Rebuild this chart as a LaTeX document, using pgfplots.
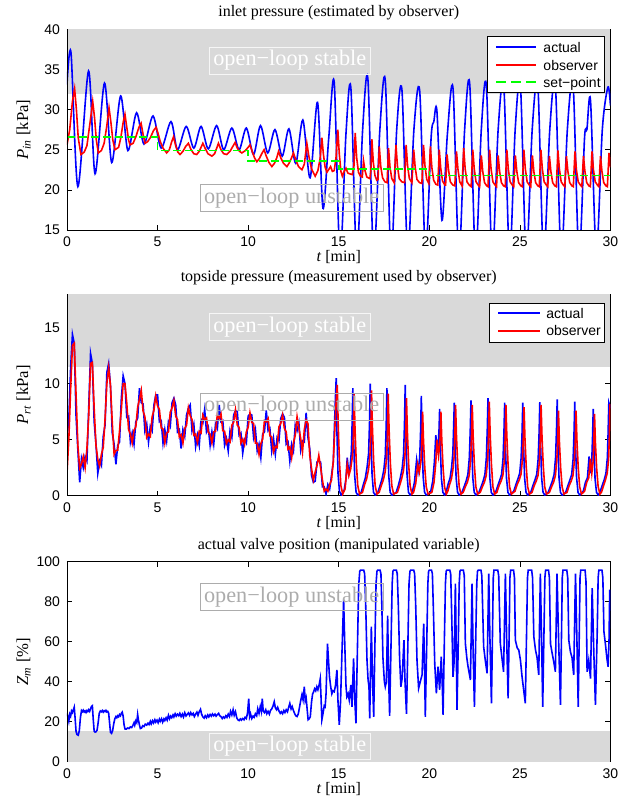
\documentclass[border=0pt]{standalone}
\usepackage{fontspec}
\setmainfont{Liberation Serif}
\newfontfamily\helv{Liberation Sans}
\usepackage{pgfplots}
\pgfplotsset{compat=1.18}
\definecolor{band}{RGB}{217,217,217}
\definecolor{agray}{RGB}{172,172,172}
\definecolor{awhite}{RGB}{246,246,246}
\definecolor{mblue}{RGB}{0,0,255}
\definecolor{mred}{RGB}{255,0,0}
\definecolor{mgreen}{RGB}{0,255,0}
\newcommand{\annofont}{\fontsize{16.7}{18}\selectfont}
\newcommand{\legfont}{\helv\fontsize{10.5}{12}\selectfont}
\pgfplotsset{
  mystyle/.style={
    scale only axis,
    width=407.6pt,
    xmin=0, xmax=30,
    xtick={0,5,...,30},
    /pgf/number format/assume math mode=true,
    tick label style={font=\helv\fontsize{10.5}{12}\selectfont},
    xticklabel style={yshift=-1.5pt},
    yticklabel style={xshift=-1.75pt},
    major tick length=3.75pt,
    tick style={black, line width=0.5pt},
    axis line style={black, line width=0.6pt},
    every axis title/.style={at={(0.5,1)}, anchor=center, yshift=12.2pt, font=\fontsize{12}{14}\selectfont},
    every axis x label/.style={at={(0.5,0)}, anchor=center, yshift=-20.5pt, font=\fontsize{12}{14}\selectfont},
    every axis y label/.style={at={(0,0.5)}, xshift=-32.5pt, rotate=90, anchor=center, font=\fontsize{12.5}{14}\selectfont},
    xlabel={\textit{t} [min]},
    clip=true,
  },
}
\tikzset{
  annstable/.style={draw=awhite, line width=0.6pt, text=white, font=\annofont, inner xsep=3pt, inner ysep=2.5pt},
  annunstable/.style={draw=agray, line width=0.6pt, text=agray, font=\annofont, inner xsep=3pt, inner ysep=2.5pt},
  legtext/.style={anchor=base west, inner sep=0pt, font=\legfont},
}
\begin{document}
\begin{tikzpicture}
\useasboundingbox (0,0) rectangle (469.5pt,-600.75pt);
% ================= TOP =================
\begin{axis}[mystyle, at={(50.25pt,-21.98pt)}, anchor=north west, height=150.5pt,
  ymin=15, ymax=40, ytick={15,20,...,40},
  title={inlet pressure (estimated by observer)},
  ylabel={\textit{P}\textsubscript{\textit{in}} [kPa]}]
\fill[band] (axis cs:0,32) rectangle (axis cs:30,40);
\addplot[mblue, line width=1.2pt, smooth] coordinates {
(0,33.1) (0.22,37.1) (0.6,20.4) (1.19,34.8) (1.55,22.0) (2.07,33.3) (2.47,23.4) (2.96,31.7) (3.36,24.9) (3.84,29.6) (4.25,25.7) (4.75,29.2) (5.2,25.2) (5.74,28.5) (6.1,25.0) (6.58,27.9) (7.0,25.2) (7.4,27.9) (7.8,25.1) (8.26,28.0) (8.65,25.0) (9.1,27.7) (9.5,25.0) (9.9,27.7) (10.3,24.4) (10.68,28.0) (11.08,24.6) (11.48,27.5) (11.88,24.2) (12.25,27.6) (12.63,23.3) (13.02,28.7) (13.42,21.5) (13.83,30.9) (14.13,17.7) (14.45,26.5) (14.75,33.4) (15.07,11.5) (15.4,27.0) (15.67,32.7) (15.99,11.5) (16.32,27.5) (16.61,33.8) (16.93,11.5) (17.27,27.5) (17.57,33.6) (17.89,11.5) (18.2,27.5) (18.49,32.4) (18.81,12.0) (19.15,27.5) (19.47,32.3) (19.79,12.0) (20.1,26.5) (20.25,28.5) (20.42,29.8) (20.7,16.2) (21.0,27.0) (21.31,32.6) (21.63,11.5) (21.95,27.5) (22.23,33.2) (22.55,11.5) (22.87,27.5) (23.15,33.0) (23.47,11.5) (23.8,27.5) (24.11,33.0) (24.43,11.5) (24.74,27.5) (25.03,33.0) (25.35,11.5) (25.68,27.5) (25.99,33.0) (26.31,11.5) (26.65,27.5) (26.96,33.0) (27.28,11.5) (27.62,27.5) (27.94,33.0) (28.26,11.5) (28.57,26.5) (28.7,27.5) (28.9,31.1) (29.22,12.0) (29.55,27.5) (29.86,32.8) (30,30.5)
};
\addplot[mred, line width=1.2pt] coordinates {
(0,25.6) (0.15,27.5) (0.3,31.0) (0.42,32.6) (0.52,30.0) (0.62,26.5) (0.77,24.4) (0.95,24.7) (1.1,25.5) (1.28,28.5) (1.42,31.0) (1.52,29.0) (1.62,26.2) (1.73,24.6) (1.9,24.9) (2.05,25.8) (2.2,28.0) (2.32,30.2) (2.42,28.5) (2.53,26.2) (2.65,25.0) (2.85,25.3) (2.97,26.5) (3.1,28.4) (3.2,29.4) (3.3,27.8) (3.4,26.2) (3.48,25.6) (3.65,25.8) (3.8,26.6) (3.97,27.8) (4.09,28.3) (4.2,26.9) (4.31,25.8) (4.45,26.0) (4.6,26.5) (4.78,27.4) (4.92,27.8) (5.03,27.0) (5.15,26.0) (5.3,25.2) (5.5,24.6) (5.65,25.0) (5.78,26.0) (5.88,26.6) (6.0,25.5) (6.12,24.7) (6.24,24.4) (6.4,24.8) (6.55,25.4) (6.7,25.8) (6.85,25.0) (7.0,24.5) (7.16,24.4) (7.3,24.8) (7.42,25.4) (7.5,25.8) (7.62,25.2) (7.78,24.5) (8.0,24.2) (8.15,24.5) (8.28,25.3) (8.36,25.8) (8.5,25.0) (8.65,24.5) (8.82,24.4) (9.0,24.8) (9.15,25.4) (9.28,25.9) (9.4,25.2) (9.52,24.8) (9.65,24.6) (9.85,24.9) (10.0,25.3) (10.1,25.6) (10.22,24.8) (10.35,24.0) (10.48,23.5) (10.62,23.9) (10.75,24.5) (10.88,25.0) (11.0,24.2) (11.15,23.4) (11.31,22.9) (11.45,23.3) (11.58,24.0) (11.68,24.8) (11.8,24.0) (11.95,23.3) (12.14,22.9) (12.28,23.4) (12.4,24.0) (12.5,24.6) (12.62,23.8) (12.78,22.9) (12.97,22.5) (13.1,23.2) (13.24,25.8) (13.35,24.2) (13.5,22.6) (13.7,21.7) (13.85,22.4) (13.98,24.0) (14.07,26.5) (14.15,24.5) (14.25,22.8) (14.35,22.2) (14.44,22.5) (14.55,22.9) (14.65,22.3) (14.75,22.4) (14.85,24.0) (14.95,27.5) (15.03,24.5) (15.12,22.3) (15.2,21.7) (15.3,22.3) (15.4,22.7) (15.5,22.1) (15.6,22.0) (15.75,21.9) (15.84,23.0) (15.91,27.1) (15.99,24.0) (16.09,22.2) (16.2,21.7) (16.3,21.6) (16.37,23.6) (16.45,22.4) (16.55,21.6) (16.72,21.4) (16.78,22.5) (16.83,26.3) (16.91,23.4) (17.0,21.8) (17.1,21.2) (17.17,21.3) (17.24,25.4) (17.32,22.9) (17.42,21.5) (17.55,21.0) (17.67,20.9) (17.75,25.2) (17.83,22.8) (17.93,21.4) (18.06,20.9) (18.16,25.6) (18.24,23.0) (18.34,21.4) (18.48,21.0) (18.63,20.9) (18.72,25.6) (18.8,23.0) (18.9,21.4) (19.04,20.9) (19.14,25.0) (19.22,22.8) (19.32,21.3) (19.46,20.9) (19.59,20.8) (19.68,25.6) (19.76,23.0) (19.86,21.3) (19.97,20.8) (20.06,25.4) (20.14,22.8) (20.24,21.2) (20.36,20.7) (20.47,20.6) (20.55,25.0) (20.63,22.7) (20.73,21.1) (20.86,20.6) (20.9,20.6) (20.98,24.4) (21.06,22.5) (21.16,21.0) (21.3,20.6) (21.41,20.5) (21.5,24.8) (21.58,22.6) (21.68,21.0) (21.81,20.5) (21.9,25.2) (21.98,22.6) (22.08,21.0) (22.2,20.6) (22.31,20.4) (22.4,25.0) (22.48,22.6) (22.58,21.0) (22.7,20.6) (22.78,20.4) (22.87,24.3) (22.95,22.3) (23.05,20.9) (23.17,20.5) (23.24,20.4) (23.33,25.0) (23.41,22.6) (23.51,21.0) (23.63,20.6) (23.71,20.4) (23.8,24.3) (23.88,22.3) (23.98,20.9) (24.1,20.5) (24.19,20.4) (24.28,25.0) (24.36,22.6) (24.46,21.0) (24.58,20.6) (24.66,20.4) (24.75,24.3) (24.83,22.3) (24.93,20.9) (25.05,20.5) (25.13,20.4) (25.22,25.0) (25.3,22.6) (25.4,21.0) (25.52,20.6) (25.6,20.4) (25.69,24.3) (25.77,22.3) (25.87,20.9) (25.99,20.5) (26.07,20.4) (26.16,25.0) (26.24,22.6) (26.34,21.0) (26.46,20.6) (26.54,20.4) (26.63,24.2) (26.71,22.3) (26.81,20.9) (26.93,20.5) (27.01,20.4) (27.1,24.9) (27.18,22.6) (27.28,21.0) (27.4,20.6) (27.48,20.4) (27.57,24.2) (27.65,22.3) (27.75,20.9) (27.87,20.5) (27.95,20.4) (28.04,24.8) (28.12,22.5) (28.22,21.0) (28.34,20.6) (28.42,20.4) (28.51,24.2) (28.59,22.3) (28.69,20.9) (28.81,20.5) (28.89,20.4) (28.98,24.8) (29.06,22.5) (29.16,21.0) (29.28,20.6) (29.36,20.4) (29.45,24.2) (29.53,22.3) (29.63,20.9) (29.75,20.5) (29.83,20.4) (29.92,24.6) (30,22.8)
};
\addplot[mgreen, line width=1.2pt, dash pattern=on 6pt off 3pt] coordinates {
(0,26.6) (5,26.6) (5,24.9) (10,24.9) (10,23.6) (15,23.6) (15,22.6) (20,22.6) (20,21.8) (30,21.8)
};
\draw[black, line width=0.6pt] (rel axis cs:0,0) -- (rel axis cs:0,1);
\node[annstable] at (axis cs:12.3,36.1) {open−loop stable};
\node[annunstable] at (axis cs:12.4,19.0) {open−loop unstable};
\end{axis}
% ================= MIDDLE =================
\begin{axis}[mystyle, at={(50.25pt,-220.5pt)}, anchor=north west, height=151.3pt,
  ymin=0, ymax=18, ytick={0,5,10,15},
  title={topside pressure (measurement used by observer)},
  ylabel={\textit{P}\textsubscript{\textit{rt}} [kPa]}]
\fill[band] (axis cs:0,11.5) rectangle (axis cs:30,18);
\addplot[mblue, line width=1.2pt] coordinates {
(0,5.2) (0.1,6.8) (0.2,11.4) (0.3,14.4) (0.4,13.6) (0.5,7.1) (0.6,4.1) (0.7,1.2) (0.8,3.3) (0.9,2.5) (1.0,3.5) (1.1,3.1) (1.2,7.9) (1.3,12.7) (1.4,11.8) (1.5,6.6) (1.6,4.6) (1.7,2.0) (1.8,3.1) (1.9,2.7) (2.0,5.3) (2.1,6.3) (2.2,11.0) (2.3,11.8) (2.4,9.8) (2.5,5.6) (2.6,4.6) (2.7,2.8) (2.8,4.5) (2.9,4.8) (3.0,8.7) (3.1,10.7) (3.2,10.0) (3.3,7.0) (3.4,7.1) (3.5,4.8) (3.6,5.6) (3.7,4.6) (3.8,6.6) (3.9,6.9) (4.0,9.6) (4.1,8.3) (4.2,8.2) (4.3,5.8) (4.4,6.4) (4.5,4.8) (4.6,6.2) (4.7,5.8) (4.8,8.1) (4.9,9.0) (5.0,9.0) (5.1,6.6) (5.2,6.7) (5.3,4.7) (5.4,5.9) (5.5,4.9) (5.6,6.6) (5.7,6.2) (5.8,8.3) (5.9,8.7) (6.0,8.1) (6.1,5.7) (6.2,5.9) (6.3,4.2) (6.4,5.9) (6.5,5.3) (6.6,7.2) (6.7,7.8) (6.8,8.1) (6.9,5.8) (7.0,6.4) (7.1,4.4) (7.2,5.4) (7.3,4.5) (7.4,6.8) (7.5,6.5) (7.6,7.7) (7.7,5.7) (7.8,6.1) (7.9,4.5) (8.0,5.7) (8.1,4.6) (8.2,6.4) (8.3,6.0) (8.4,8.1) (8.5,6.6) (8.6,6.7) (8.7,4.5) (8.8,5.1) (8.9,4.0) (9.0,5.8) (9.1,5.2) (9.2,7.2) (9.3,7.6) (9.4,7.5) (9.5,5.4) (9.6,5.6) (9.7,3.8) (9.8,5.0) (9.9,4.7) (10.0,7.1) (10.1,7.3) (10.2,7.2) (10.3,5.2) (10.4,5.9) (10.5,4.0) (10.6,4.6) (10.7,3.4) (10.8,5.5) (10.9,5.7) (11.0,7.6) (11.1,5.8) (11.2,6.0) (11.3,4.0) (11.4,5.1) (11.5,3.7) (11.6,5.2) (11.7,4.9) (11.8,6.9) (11.9,7.3) (12.0,7.0) (12.1,4.6) (12.2,4.8) (12.3,3.1) (12.4,4.6) (12.5,4.0) (12.6,6.3) (12.7,5.8) (12.8,6.5) (12.9,4.1) (13.0,4.9) (13.1,4.8) (13.2,7.4) (13.3,5.2) (13.4,4.2) (13.5,1.8) (13.6,1.2) (13.7,1.3) (13.8,3.0) (13.9,3.1) (14.0,3.0) (14.1,0.8) (14.2,0.8) (14.3,0.15) (14.4,1.0) (14.5,0.6) (14.6,1.8) (14.7,3.0) (14.8,8.0) (14.86,10.5)
(14.9,5.8) (14.96,2.0) (15.04,0.4) (15.14,0.05) (15.3,0.5) (15.4,1.5) (15.47,3.4) (15.55,2.0) (15.63,2.6) (15.7,4.0) (15.74,6.5) (15.78,9.6)
(15.82,5.3) (15.88,1.8) (15.96,0.3) (16.06,0.05) (16.24,0.3) (16.36,1.0) (16.47,1.6) (16.57,2.6) (16.65,3.8) (16.7,6.5) (16.74,10.0)
(16.78,5.5) (16.84,1.9) (16.92,0.3) (17.02,0.05) (17.16,0.3) (17.28,0.9) (17.39,1.5) (17.49,2.3) (17.57,3.6) (17.62,6.2) (17.66,9.6)
(17.7,5.3) (17.76,1.8) (17.84,0.3) (17.94,0.05) (18.17,0.3) (18.29,0.9) (18.4,1.6) (18.5,2.4) (18.58,3.7) (18.63,6.4) (18.67,9.9)
(18.71,5.4) (18.77,1.9) (18.85,0.3) (18.95,0.05) (19.06,0.3) (19.18,1.2) (19.3,3.2) (19.38,2.2) (19.47,3.4) (19.52,5.8) (19.56,8.9)
(19.6,4.9) (19.66,1.7) (19.74,0.3) (19.84,0.05) (20.07,0.3) (20.19,1.3) (20.28,3.0) (20.36,5.4) (20.44,3.8) (20.5,4.8) (20.54,6.0) (20.57,7.75)
(20.61,4.3) (20.67,1.5) (20.75,0.3) (20.85,0.05) (20.94,0.4) (21.05,1.1) (21.15,1.6) (21.23,2.5) (21.3,3.8) (21.34,6.0) (21.38,8.3)
(21.42,4.6) (21.48,1.6) (21.56,0.3) (21.66,0.05) (21.8,0.3) (21.92,0.8) (22.03,1.3) (22.13,1.9) (22.21,3.4) (22.26,5.8) (22.3,8.5)
(22.34,4.7) (22.4,1.6) (22.48,0.3) (22.58,0.05) (22.74,0.3) (22.86,0.8) (22.97,1.3) (23.07,1.9) (23.15,3.4) (23.2,5.9) (23.24,8.7)
(23.28,4.8) (23.34,1.6) (23.42,0.3) (23.52,0.05) (23.66,0.3) (23.78,0.9) (23.89,1.4) (23.99,1.9) (24.07,3.3) (24.12,5.6) (24.16,8.3)
(24.2,4.6) (24.26,1.6) (24.34,0.3) (24.44,0.05) (24.66,0.4) (24.78,1.0) (24.89,1.5) (24.99,2.0) (25.07,3.4) (25.12,5.6) (25.16,8.3)
(25.2,4.6) (25.26,1.6) (25.34,0.3) (25.44,0.05) (25.6,0.3) (25.72,0.9) (25.83,1.4) (25.93,1.9) (26.01,3.3) (26.06,5.6) (26.1,8.35)
(26.14,4.7) (26.2,1.6) (26.28,0.3) (26.38,0.05) (26.56,0.3) (26.68,0.8) (26.79,1.3) (26.89,1.9) (26.97,3.4) (27.02,5.8) (27.06,8.6)
(27.1,4.7) (27.16,1.6) (27.24,0.3) (27.34,0.05) (27.53,0.3) (27.65,0.9) (27.76,1.4) (27.86,1.9) (27.94,3.3) (27.99,5.7) (28.03,8.4)
(28.07,4.6) (28.13,1.6) (28.21,0.3) (28.31,0.05) (28.5,0.4) (28.62,1.2) (28.73,1.6) (28.82,3.5) (28.9,2.0) (28.97,3.2) (29.01,5.2) (29.05,7.75)
(29.09,4.3) (29.15,1.5) (29.23,0.3) (29.33,0.05) (29.42,0.3) (29.54,0.9) (29.65,1.4) (29.75,2.0) (29.83,3.4) (29.87,5.6) (29.91,8.3) (30,7.8)
};
\addplot[mred, line width=1.2pt] coordinates {
(0,2.0) (0.1,5.0) (0.2,9.5) (0.3,13.4) (0.4,13.6) (0.5,9.0) (0.6,4.5) (0.7,2.45) (0.8,2.85) (0.9,3.5) (1.0,2.5) (1.1,4.2) (1.2,7.2) (1.3,11.8) (1.4,11.9) (1.5,7.8) (1.6,4.5) (1.7,3.25) (1.8,2.65) (1.9,3.7) (2.0,4.3) (2.1,6.8) (2.2,10.0) (2.3,11.4) (2.4,9.8) (2.5,6.5) (2.6,3.7) (2.7,4.05) (2.8,4.05) (2.9,5.8) (3.0,7.7) (3.1,10.0) (3.2,10.0) (3.3,8.25) (3.4,5.9) (3.5,5.5) (3.6,4.7) (3.7,5.85) (3.8,6.15) (3.9,7.9) (4.0,8.6) (4.1,9.4) (4.2,7.55) (4.3,7.05) (4.4,5.2) (4.5,5.5) (4.6,5.3) (4.7,7.05) (4.8,7.65) (4.9,8.9) (5.0,8.0) (5.1,7.7) (5.2,6.05) (5.3,5.95) (5.4,4.7) (5.5,5.6) (5.6,5.7) (5.7,7.45) (5.8,7.85) (5.9,8.5) (6.0,7.1) (6.1,6.8) (6.2,5.25) (6.3,5.45) (6.4,4.7) (6.5,6.0) (6.6,6.3) (6.7,7.85) (6.8,7.15) (6.9,6.8) (7.0,5.4) (7.1,5.5) (7.2,4.75) (7.3,5.75) (7.4,5.6) (7.5,7.2) (7.6,6.8) (7.7,6.95) (7.8,5.65) (7.9,5.5) (8.0,4.7) (8.1,5.7) (8.2,5.75) (8.3,7.25) (8.4,6.9) (8.5,7.3) (8.6,5.8) (8.7,5.75) (8.8,4.65) (8.9,5.0) (9.0,4.8) (9.1,6.3) (9.2,6.55) (9.3,7.65) (9.4,6.3) (9.5,6.1) (9.6,4.7) (9.7,5.05) (9.8,4.55) (9.9,5.7) (10.0,6.1) (10.1,7.4) (10.2,6.55) (10.3,6.45) (10.4,4.7) (10.5,4.7) (10.6,3.7) (10.7,4.65) (10.8,5.05) (10.9,6.7) (11.0,6.6) (11.1,6.9) (11.2,5.35) (11.3,5.25) (11.4,3.9) (11.5,4.4) (11.6,4.3) (11.7,6.15) (11.8,6.45) (11.9,7.2) (12.0,6.0) (12.1,5.7) (12.2,4.15) (12.3,4.35) (12.4,3.4) (12.5,4.7) (12.6,5.4) (12.7,7.05) (12.8,6.05) (12.9,5.1) (13.0,3.9) (13.1,5.9) (13.2,6.75) (13.3,6.45) (13.4,3.6) (13.5,2.4) (13.6,1.4) (13.7,2.1) (13.8,2.7) (13.9,3.6) (14.0,2.5) (14.1,1.4) (14.2,0.4) (14.3,0.6) (14.4,0.4) (14.5,1.0) (14.6,1.4) (14.7,3.1) (14.8,6.5) (14.86,8.5) (14.92,9.9)
(14.97,6.4) (15.04,3.0) (15.12,0.9) (15.22,0.15) (15.35,0.6) (15.47,2.8) (15.56,1.8) (15.66,2.4) (15.76,3.6) (15.81,5.5) (15.85,9.1)
(15.9,5.9) (15.97,2.9) (16.05,0.9) (16.15,0.15) (16.31,0.3) (16.43,1.0) (16.54,1.5) (16.64,2.3) (16.72,3.4) (16.77,5.6) (16.81,9.4)
(16.86,6.1) (16.93,3.0) (17.01,0.9) (17.11,0.15) (17.23,0.3) (17.35,0.9) (17.46,1.4) (17.56,2.1) (17.64,3.3) (17.69,5.4) (17.73,9.1)
(17.78,5.9) (17.85,2.9) (17.93,0.9) (18.03,0.15) (18.24,0.3) (18.36,0.9) (18.47,1.5) (18.57,2.2) (18.65,3.4) (18.7,5.4) (18.74,8.7)
(18.79,5.7) (18.86,2.8) (18.94,0.9) (19.04,0.15) (19.13,0.3) (19.25,1.1) (19.36,2.8) (19.45,2.1) (19.54,3.1) (19.59,4.9) (19.63,7.5)
(19.68,4.9) (19.75,2.5) (19.83,0.8) (19.93,0.15) (20.14,0.3) (20.26,1.2) (20.35,2.8) (20.43,5.0) (20.51,3.6) (20.57,4.4) (20.61,5.6) (20.64,7.5)
(20.69,4.9) (20.76,2.5) (20.84,0.8) (20.94,0.15) (21.02,0.4) (21.12,1.0) (21.22,1.5) (21.3,2.3) (21.37,3.5) (21.41,5.4) (21.45,8.1)
(21.5,5.3) (21.57,2.7) (21.65,0.8) (21.75,0.15) (21.87,0.3) (21.99,0.8) (22.1,1.2) (22.2,1.8) (22.28,3.2) (22.33,5.3) (22.37,8.1)
(22.42,5.3) (22.49,2.7) (22.57,0.8) (22.67,0.15) (22.81,0.3) (22.93,0.8) (23.04,1.2) (23.14,1.8) (23.22,3.2) (23.27,5.4) (23.31,8.4)
(23.36,5.5) (23.43,2.8) (23.51,0.8) (23.61,0.15) (23.73,0.3) (23.85,0.9) (23.96,1.3) (24.06,1.8) (24.14,3.1) (24.19,5.2) (24.23,8.1)
(24.28,5.3) (24.35,2.7) (24.43,0.8) (24.53,0.15) (24.73,0.4) (24.85,1.0) (24.96,1.4) (25.06,1.9) (25.14,3.2) (25.19,5.2) (25.23,7.9)
(25.28,5.1) (25.35,2.6) (25.43,0.8) (25.53,0.15) (25.67,0.3) (25.79,0.9) (25.9,1.3) (26.0,1.8) (26.08,3.1) (26.13,5.2) (26.17,8.1)
(26.22,5.3) (26.29,2.7) (26.37,0.8) (26.47,0.15) (26.63,0.3) (26.75,0.8) (26.86,1.2) (26.96,1.8) (27.04,3.2) (27.09,5.0) (27.13,7.6)
(27.18,4.9) (27.25,2.5) (27.33,0.8) (27.43,0.15) (27.6,0.3) (27.72,0.9) (27.83,1.3) (27.93,1.8) (28.01,3.1) (28.06,5.0) (28.1,7.6)
(28.15,4.9) (28.22,2.5) (28.3,0.8) (28.4,0.15) (28.57,0.4) (28.69,1.2) (28.8,1.6) (28.89,3.3) (28.97,2.0) (29.04,3.0) (29.08,4.8) (29.12,7.3)
(29.17,4.7) (29.24,2.4) (29.32,0.8) (29.42,0.15) (29.5,0.3) (29.62,0.9) (29.72,1.4) (29.82,2.0) (29.9,3.3) (29.94,5.4) (29.97,8.2) (30,7.0)
};
\draw[black, line width=0.6pt] (rel axis cs:0,0) -- (rel axis cs:0,1);
\node[annstable] at (axis cs:12.3,15.05) {open−loop stable};
\node[annunstable] at (axis cs:12.4,7.95) {open−loop unstable};
\end{axis}
% ================= BOTTOM =================
\begin{axis}[mystyle, at={(50.25pt,-421.3pt)}, anchor=north west, height=150pt,
  ymin=0, ymax=100, ytick={0,20,...,100},
  title={actual valve position (manipulated variable)},
  ylabel={\textit{Z}\textsubscript{\textit{m}} [\%]}]
\fill[band] (axis cs:0,0) rectangle (axis cs:30,15.5);
\addplot[mblue, line width=1.2pt] coordinates {
(0,24.2) (0.05,22.5) (0.1,20.3) (0.15,23.8) (0.2,22.8) (0.25,25.4) (0.3,24.6) (0.35,26.0) (0.4,27.3) (0.45,21.5) (0.5,15.2) (0.55,13.6) (0.62,13.3) (0.68,15.5) (0.74,22.0) (0.8,25.6) (0.85,25.0) (0.9,25.8) (0.95,24.9) (1.0,25.4) (1.05,24.6) (1.1,25.6) (1.15,25.1) (1.2,26.0) (1.25,25.2) (1.3,26.4) (1.35,27.6) (1.4,28.0) (1.45,21.0) (1.5,15.3) (1.55,14.8) (1.6,15.0) (1.66,15.8) (1.72,19.5) (1.78,24.2) (1.84,25.4) (1.9,25.0) (1.95,25.6) (2.0,24.8) (2.05,25.5) (2.1,25.1) (2.15,25.7) (2.2,24.9) (2.25,25.2) (2.3,24.3) (2.35,19.5) (2.4,14.8) (2.46,14.2) (2.52,15.6) (2.58,19.0) (2.64,21.5) (2.7,22.6) (2.75,22.0) (2.8,23.0) (2.85,22.5) (2.9,23.6) (2.95,23.0) (3.0,24.2) (3.05,24.8) (3.1,22.8) (3.15,18.5) (3.2,16.4) (3.28,16.3) (3.35,16.9) (3.42,16.6) (3.5,17.4) (3.57,17.1) (3.64,18.2) (3.7,19.5) (3.74,18.3) (3.8,20.5) (3.85,19.6) (3.9,23.6) (3.94,21.0) (4.0,18.4) (4.05,16.6) (4.12,16.9) (4.18,18.0) (4.25,17.6) (4.32,18.8) (4.4,18.3) (4.47,19.3) (4.53,18.6) (4.6,20.2) (4.65,18.9) (4.72,20.5) (4.78,19.4) (4.85,21.0) (4.9,19.8) (4.97,20.8) (5.03,19.5) (5.1,21.3) (5.15,20.2) (5.22,21.5) (5.28,19.8) (5.35,21.4) (5.4,20.6) (5.47,22.0) (5.53,20.8) (5.6,23.2) (5.66,21.5) (5.72,22.8) (5.78,22.0) (5.85,23.4) (5.9,22.4) (5.97,24.0) (6.03,22.8) (6.1,23.8) (6.17,23.0) (6.23,24.2) (6.3,22.6) (6.37,23.8) (6.43,22.4) (6.5,24.5) (6.57,22.9) (6.63,23.6) (6.7,24.4) (6.77,23.2) (6.83,24.6) (6.9,23.4) (6.97,24.2) (7.03,22.6) (7.1,23.8) (7.17,24.8) (7.23,23.2) (7.3,25.0) (7.37,26.2) (7.43,23.8) (7.5,22.4) (7.57,21.8) (7.63,23.0) (7.7,22.0) (7.77,23.4) (7.83,22.4) (7.9,23.6) (7.97,22.8) (8.03,23.9) (8.1,23.0) (8.17,23.8) (8.23,22.8) (8.3,23.6) (8.37,24.2) (8.43,23.0) (8.5,22.6) (8.57,21.6) (8.63,22.4) (8.7,21.8) (8.77,23.0) (8.83,22.2) (8.9,23.8) (8.97,22.6) (9.03,25.2) (9.1,23.4) (9.17,26.0) (9.23,23.2) (9.3,25.0) (9.37,22.0) (9.43,21.0) (9.5,20.6) (9.57,21.4) (9.63,20.8) (9.7,21.6) (9.77,21.0) (9.83,22.2) (9.9,21.6) (9.97,24.6) (10.03,31.5) (10.08,22.5) (10.13,24.0) (10.2,21.6) (10.27,22.8) (10.33,22.2) (10.4,24.0) (10.47,23.0) (10.53,26.5) (10.6,24.2) (10.67,27.6) (10.73,25.2) (10.78,31.5) (10.83,25.4) (10.9,24.6) (10.97,26.0) (11.03,24.0) (11.1,25.2) (11.17,23.8) (11.23,25.6) (11.3,26.4) (11.37,27.8) (11.44,30.0) (11.5,27.0) (11.57,26.0) (11.63,27.2) (11.7,25.4) (11.77,24.2) (11.83,25.0) (11.9,24.0) (11.97,25.6) (12.03,24.6) (12.1,26.0) (12.17,25.0) (12.23,27.0) (12.3,29.2) (12.37,26.4) (12.43,27.6) (12.5,25.6) (12.57,24.0) (12.63,23.0) (12.7,22.6) (12.77,24.0) (12.83,27.0) (12.9,30.5) (12.97,33.5) (13.03,31.0) (13.1,37.5) (13.15,30.5) (13.2,32.0) (13.26,26.0) (13.31,21.0) (13.37,21.5) (13.43,22.5) (13.5,30.0) (13.56,34.0) (13.61,34.9) (13.67,36.5) (13.73,35.5) (13.79,37.5) (13.85,36.0) (13.92,38.5) (13.98,41.5) (14.02,33.0) (14.07,21.0) (14.13,24.0) (14.2,28.0) (14.25,27.5) (14.3,34.0) (14.38,59.0) (14.44,50.0) (14.49,42.5) (14.55,38.0) (14.62,34.0) (14.68,35.5) (14.75,35.0) (14.82,38.0) (14.9,45.9) (14.96,30.0) (15.03,18.4) (15.1,30.0) (15.18,55.0) (15.27,81.0) (15.33,60.0) (15.4,38.0) (15.45,32.5) (15.52,34.0) (15.58,30.9) (15.67,38.4) (15.73,27.5) (15.82,51.7) (15.88,32.0) (15.95,19.2) (16.04,60.0) (16.1,88.0) (16.16,95.2) (16.2,95.8) (16.38,95.8) (16.43,94.0) (16.49,78.0) (16.56,50.8) (16.62,41.0) (16.67,37.5) (16.71,21.7) (16.8,67.5) (16.87,40.0) (16.93,22.5) (17.0,60.0) (17.06,89.0) (17.11,95.2) (17.15,95.8) (17.28,95.8) (17.33,94.0) (17.38,78.0) (17.44,52.0) (17.52,40.0) (17.57,37.5) (17.63,40.0) (17.7,73.0) (17.76,40.0) (17.81,23.0) (17.89,60.0) (17.95,89.0) (17.99,95.2) (18.03,95.8) (18.18,95.8) (18.23,94.0) (18.29,78.0) (18.36,52.0) (18.43,37.5) (18.5,41.7) (18.6,60.8) (18.66,40.0) (18.74,24.0) (18.82,60.0) (18.88,89.0) (18.93,95.2) (18.97,95.8) (19.14,95.8) (19.19,94.0) (19.25,78.0) (19.32,50.8) (19.41,36.7) (19.5,40.0) (19.6,43.4) (19.69,69.0) (19.74,45.0) (19.78,22.5) (19.86,60.0) (19.92,89.0) (19.96,95.2) (20.0,95.8) (20.12,95.8) (20.17,94.0) (20.22,78.0) (20.3,49.0) (20.39,34.2) (20.48,47.5) (20.57,36.0) (20.66,52.5) (20.71,40.0) (20.76,23.4) (20.83,60.0) (20.89,89.0) (20.93,95.2) (20.97,95.8) (21.13,95.8) (21.18,94.0) (21.23,76.0) (21.31,42.5) (21.37,50.0) (21.44,89.0) (21.49,55.0) (21.53,26.0) (21.6,60.0) (21.65,89.0) (21.69,95.2) (21.73,95.8) (21.88,95.8) (21.93,93.0) (21.99,59.2) (22.07,52.0) (22.14,47.5) (22.27,40.9) (22.36,89.0) (22.42,55.0) (22.49,27.5) (22.56,60.0) (22.62,89.0) (22.66,95.2) (22.7,95.8) (22.85,95.8) (22.9,93.0) (23.0,57.5) (23.1,50.0) (23.19,44.2) (23.28,94.0) (23.35,60.0) (23.43,29.2) (23.49,65.0) (23.53,92.0) (23.57,95.8) (23.78,95.8) (23.83,93.0) (23.92,59.0) (24.01,52.0) (24.1,45.0) (24.2,94.0) (24.27,62.0) (24.35,31.7) (24.41,65.0) (24.45,92.0) (24.49,95.8) (24.65,95.8) (24.7,92.0) (24.75,60.8) (24.85,57.0) (24.94,55.8) (25.03,50.8) (25.12,42.5) (25.3,29.2) (25.37,65.0) (25.42,92.0) (25.46,95.8) (25.65,95.8) (25.7,92.0) (25.77,62.5) (25.86,56.0) (25.95,52.0) (26.04,43.4) (26.13,94.0) (26.2,60.0) (26.26,27.5) (26.33,65.0) (26.38,92.0) (26.42,95.8) (26.58,95.8) (26.63,92.0) (26.69,59.0) (26.78,54.3) (26.87,50.0) (26.96,45.0) (27.05,94.0) (27.14,60.0) (27.24,28.4) (27.3,65.0) (27.34,92.0) (27.38,95.8) (27.59,95.8) (27.64,92.0) (27.7,60.8) (27.79,55.0) (27.88,52.0) (27.97,43.4) (28.07,94.0) (28.15,60.0) (28.22,27.5) (28.28,65.0) (28.32,92.0) (28.36,95.8) (28.6,95.8) (28.65,90.0) (28.71,45.0) (28.8,50.8) (28.9,41.6) (28.99,86.8) (29.08,55.0) (29.17,28.4) (29.27,65.0) (29.32,92.0) (29.36,95.8) (29.53,95.8) (29.58,92.0) (29.64,65.0) (29.72,59.0) (29.8,52.0) (29.87,47.5) (29.92,60.0) (29.96,86.0) (30,84.0)
};
\draw[black, line width=0.6pt] (rel axis cs:0,0) -- (rel axis cs:0,1);
\node[annunstable] at (axis cs:12.4,82.3) {open−loop unstable};
\node[annstable] at (axis cs:12.3,7.7) {open−loop stable};
\end{axis}
% ================= LEGENDS =================
\filldraw[fill=white, draw=black, line width=0.6pt] (365.25pt,-27pt) rectangle (453pt,-69pt);
\draw[mblue, line width=1.5pt] (372pt,-35.6pt) -- (402pt,-35.6pt);
\draw[mred, line width=1.5pt] (372pt,-49.1pt) -- (402pt,-49.1pt);
\draw[mgreen, line width=1.5pt, dash pattern=on 7.5pt off 3.75pt] (372pt,-61.5pt) -- (402pt,-61.5pt);
\filldraw[fill=white, draw=black, line width=0.6pt] (366.75pt,-227.25pt) rectangle (453pt,-256.5pt);
\draw[mblue, line width=1.5pt] (373.5pt,-234.8pt) -- (405pt,-234.8pt);
\draw[mred, line width=1.5pt] (373.5pt,-248.1pt) -- (405pt,-248.1pt);
\node[legtext] at (407.4pt,-39.5pt) {actual};
\node[legtext] at (407.4pt,-53pt) {observer};
\node[legtext] at (407.4pt,-65.4pt) {set−point};
\node[legtext] at (409.5pt,-238.7pt) {actual};
\node[legtext] at (409.5pt,-251.95pt) {observer};
\end{tikzpicture}
\end{document}
